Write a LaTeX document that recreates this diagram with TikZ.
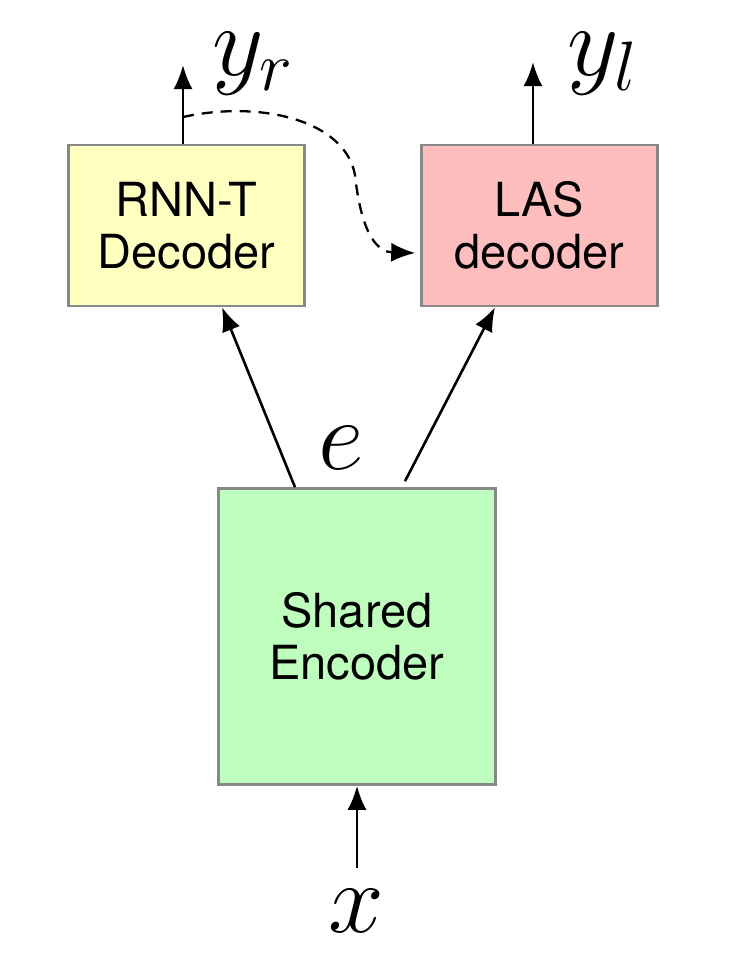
\documentclass[tikz,border=0pt]{standalone}
\usepackage{fix-cm}
\usepackage{fontspec}
\newfontfamily\helv{TeX Gyre Heros}
\usetikzlibrary{arrows.meta}
\definecolor{boxyellow}{RGB}{255,255,192}
\definecolor{boxpink}{RGB}{255,190,190}
\definecolor{boxgreen}{RGB}{190,255,190}
\definecolor{boxborder}{RGB}{136,136,136}
\tikzset{
  blockbox/.style={draw=boxborder, line width=2.6pt, inner sep=0pt, align=center,
    font=\helv\fontsize{47}{52}\selectfont},
  arr/.style={line width=2.6pt, -{Latex[length=24pt,width=19pt]}},
  dasharr/.style={line width=2.3pt, dash pattern=on 11pt off 8pt, -{Latex[length=24pt,width=19pt]}},
  mathlabel/.style={inner sep=0pt, anchor=base west, font=\fontsize{100}{100}\selectfont}
}
\begin{document}
\begin{tikzpicture}[x=1pt,y=-1pt]
\useasboundingbox (0,0) rectangle (732,970);
\node[blockbox, fill=boxyellow, minimum width=236pt, minimum height=161pt] (rnnt) at (186.5,225.5) {RNN-T\\Decoder};
\node[blockbox, fill=boxpink, minimum width=236pt, minimum height=161pt] (las) at (539.5,225.5) {LAS\\decoder};
\node[blockbox, fill=boxgreen, minimum width=277pt, minimum height=296pt] (enc) at (357,636.5) {Shared\\Encoder};

\coordinate (yrtip) at (183,65);
\coordinate (yltip) at (533,62);
\coordinate (xin) at (357,868);
\coordinate (branch) at (183,117);

\draw[arr] ([xshift=-3.5pt]rnnt.north) -- (yrtip);
\draw[arr] ([xshift=-6.5pt]las.north) -- (yltip);
\draw[arr] ([xshift=-62pt]enc.north) -- ([xshift=35.5pt]rnnt.south);
\draw[arr] ([xshift=48pt,yshift=6pt]enc.north) -- ([xshift=-44.5pt]las.south);
\draw[arr] (xin) -- (enc.south);
\draw[dasharr] (branch) .. controls (260,100) and (345,120) .. (355,175)
  .. controls (362,240) and (380,252) .. ([xshift=-5pt,yshift=-27.5pt]las.west);

\node[mathlabel] (yr) at (212,75) {$y_r$};
\node[mathlabel] (yl) at (567,75) {$y_l$};
\node[mathlabel] (e) at (318,469) {$e$};
\node[mathlabel] (x) at (328,932) {$x$};
\end{tikzpicture}
\end{document}
